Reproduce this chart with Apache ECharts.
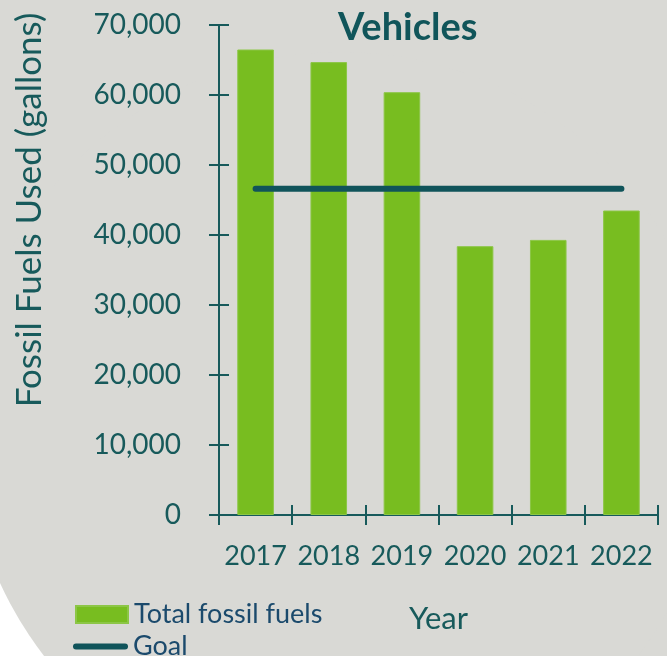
<!DOCTYPE html>
<html>
<head>
<meta charset="utf-8">
<script src="https://cdn.jsdelivr.net/npm/echarts@6/dist/echarts.min.js"></script>
<style>html,body{margin:0;padding:0;background:#fff;}#c{width:667px;height:656px;}</style>
</head>
<body>
<div id="c"></div>
<script>
const years = ['2017', '2018', '2019', '2020', '2021', '2022'];
const totalFossilFuels = [66500, 64700, 60400, 38400, 39300, 43500];
const goal = [46600, 46600, 46600, 46600, 46600, 46600];
const yTicks = [0, 10000, 20000, 30000, 40000, 50000, 60000, 70000];

const FONT = 'Lato';
const TEAL = '#175a5b';
const GOAL_COLOR = '#10545a';
const chart = echarts.init(document.getElementById('c'));
const yMin = yTicks[0], yMax = yTicks[yTicks.length - 1], yInt = yTicks[1] - yTicks[0];
const fmt = v => v.toLocaleString('en-US');
const legendText = { fontFamily: FONT, fontSize: 27, color: '#1b4a6c' };

chart.setOption({
  backgroundColor: '#d9d9d5',
  animation: false,
  graphic: [
    { type: 'rect', z: -2, silent: true, shape: { x: 0, y: 540, width: 140, height: 116 }, style: { fill: '#ffffff' } },
    { type: 'circle', z: -1, silent: true, shape: { cx: 341, cy: 427, r: 375 }, style: { fill: '#d9d9d5' } },
    { type: 'text', z: 5, x: 30, y: 210, rotation: Math.PI / 2,
      style: { text: 'Fossil Fuels Used (gallons)', fill: TEAL, font: '35px ' + FONT, textAlign: 'center', textVerticalAlign: 'middle' } }
  ],
  title: {
    text: 'Vehicles', left: 333, top: 4,
    textStyle: { fontFamily: FONT, fontWeight: 'bold', fontSize: 38, color: '#10555a' }
  },
  legend: [
    {
      orient: 'horizontal', left: 70, top: 596, height: 40, itemWidth: 52, itemHeight: 17, itemGap: 0,
      textStyle: Object.assign({ padding: [0, 0, 0, 1] }, legendText),
      data: [{ name: 'Total fossil fuels', icon: 'rect' }]
    },
    {
      orient: 'horizontal', left: 68, top: 628, height: 40, itemWidth: 55, itemHeight: 6, itemGap: 0,
      textStyle: legendText,
      data: [{ name: 'Goal', icon: 'path://M3,0 H52 A3,3 0 0 1 52,6 H3 A3,3 0 0 1 3,0 Z', itemStyle: { color: GOAL_COLOR } }]
    }
  ],
  grid: { left: 219, right: 9, top: 25, bottom: 141, containLabel: false },
  xAxis: [
    {
      type: 'category', data: years, boundaryGap: true,
      name: 'Year', nameLocation: 'middle', nameGap: 88,
      nameTextStyle: { fontFamily: FONT, fontSize: 31, color: TEAL },
      axisLine: { show: true, lineStyle: { color: TEAL, width: 2 } },
      axisTick: { show: true, inside: false, length: 10, interval: 0, lineStyle: { color: TEAL, width: 2 } },
      axisLabel: { margin: 28, interval: 0, fontFamily: FONT, fontSize: 27, color: TEAL }
    },
    {
      type: 'category', data: years, boundaryGap: true, position: 'bottom',
      axisLine: { show: false },
      axisTick: { show: true, inside: true, length: 10, interval: 0, lineStyle: { color: TEAL, width: 2 } },
      axisLabel: { show: false }
    }
  ],
  yAxis: [
    {
      type: 'value', min: yMin, max: yMax, interval: yInt,
      axisLine: { show: true, lineStyle: { color: TEAL, width: 2 } },
      axisTick: { show: true, inside: false, length: 10, lineStyle: { color: TEAL, width: 2 } },
      axisLabel: { margin: 38, fontFamily: FONT, fontSize: 28, color: TEAL, formatter: fmt },
      splitLine: { show: false }
    },
    {
      type: 'value', min: yMin, max: yMax, interval: yInt, position: 'left',
      axisLine: { show: false },
      axisTick: { show: true, inside: true, length: 10, lineStyle: { color: TEAL, width: 2 } },
      axisLabel: { show: false },
      splitLine: { show: false }
    }
  ],
  series: [
    {
      name: 'Total fossil fuels', type: 'bar', data: totalFossilFuels, barWidth: '50%',
      itemStyle: { color: '#78bd20', borderColor: '#8cc646', borderWidth: 1 }
    },
    {
      name: 'Goal', type: 'line', data: goal, symbol: 'none', z: 5,
      lineStyle: { color: GOAL_COLOR, width: 6, cap: 'round' },
      itemStyle: { color: GOAL_COLOR }
    }
  ]
});
</script>
</body>
</html>
